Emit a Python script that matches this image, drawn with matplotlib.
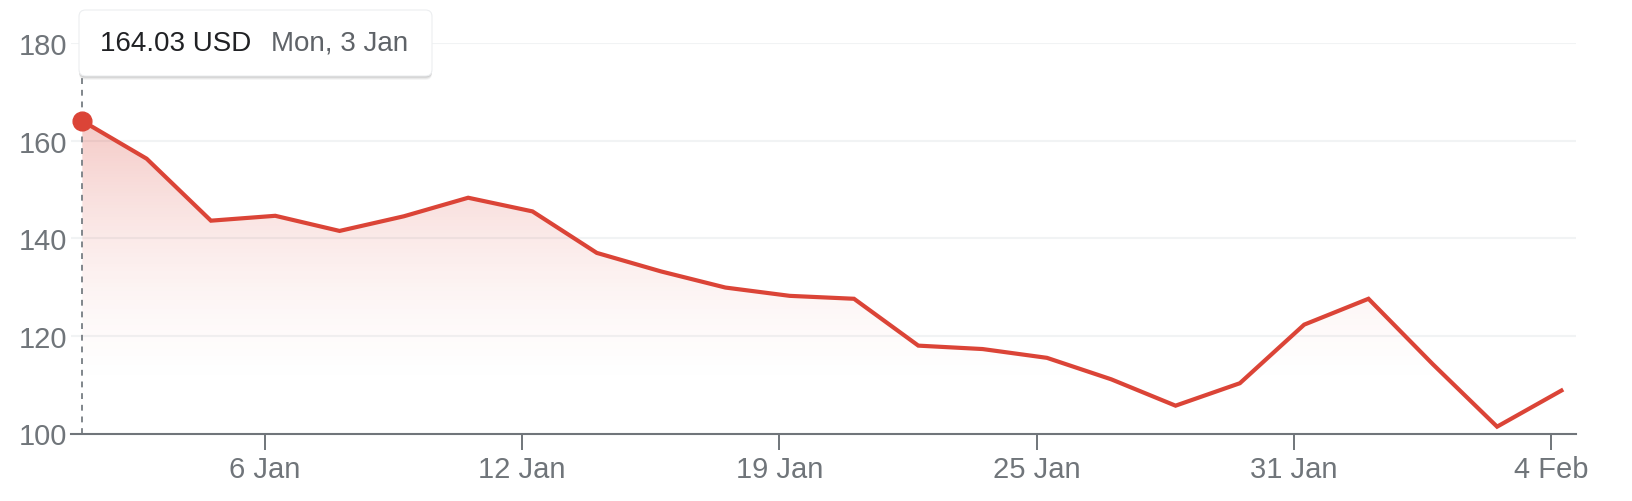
import numpy as np
import matplotlib as mpl
mpl.use('Agg')
import matplotlib.pyplot as plt
from matplotlib.patches import FancyBboxPatch

plt.rcParams['font.family'] = ['Liberation Sans', 'DejaVu Sans']

# Daily closes, trading days 3 Jan - 4 Feb
dates = ['3 Jan', '4 Jan', '5 Jan', '6 Jan', '7 Jan', '10 Jan', '11 Jan', '12 Jan',
         '13 Jan', '14 Jan', '18 Jan', '19 Jan', '20 Jan', '21 Jan', '24 Jan', '25 Jan',
         '26 Jan', '27 Jan', '28 Jan', '31 Jan', '1 Feb', '2 Feb', '3 Feb', '4 Feb']
prices = [164.03, 156.3, 143.6, 144.6, 141.5, 144.5, 148.3, 145.5,
          137.0, 133.2, 129.9, 128.2, 127.6, 118.0, 117.3, 115.5,
          111.1, 105.7, 110.3, 122.3, 127.6, 114.2, 101.4, 108.8]
tick_labels = ['6 Jan', '12 Jan', '19 Jan', '25 Jan', '31 Jan', '4 Feb']
yticks = [100, 120, 140, 160, 180]
tooltip_price = '164.03 USD'
tooltip_date = 'Mon, 3 Jan'

red = '#db4437'
grey = '#70757a'

W, H = 1632, 502
ax_top, ax_bot = 44, 434.5
fig = plt.figure(figsize=(W / 100, H / 100), dpi=100)
ax = fig.add_axes([71 / W, 1 - ax_bot / H, (1576 - 71) / W, (ax_bot - ax_top) / H])

x = np.arange(len(prices))
ax.set_xlim(-0.176, 23.227)
ax.set_ylim(100, 180)

# gradient fill under the line, fading out towards ~110
fill = ax.fill_between(x, prices, 100, color='none', lw=0)
yy = np.linspace(100, 180, 400)
t = np.clip((yy - 108) / (166 - 108), 0, 1)
alpha = t ** 1.6 * 0.3
img = np.zeros((len(yy), 2, 4))
img[:, :, 0], img[:, :, 1], img[:, :, 2] = 0.86, 0.27, 0.22
img[:, :, 3] = alpha[:, None]
im = ax.imshow(img, extent=[x[0], x[-1], 100, 180], origin='lower',
               aspect='auto', zorder=1, interpolation='bilinear')
im.set_clip_path(fill.get_paths()[0], transform=ax.transData)

ax.plot(x, prices, color=red, lw=3.0, zorder=3, solid_joinstyle='miter')
ax.plot(x[0], prices[0], 'o', color=red, ms=13.5, zorder=4)

# hover line up to the tooltip
ax.axvline(x[0], ymin=0, ymax=(ax_bot - 77) / (ax_bot - ax_top), color='#80868b',
           lw=1.4, ls=(0, (3, 3)), zorder=2, clip_on=False)

# grid, spines, ticks
for v in yticks[1:]:
    ax.axhline(v, color='#f1f3f4', lw=1.5, zorder=0)
for s in ['top', 'right', 'left']:
    ax.spines[s].set_visible(False)
ax.spines['bottom'].set_color(grey)
ax.spines['bottom'].set_linewidth(1.5)
ax.spines['bottom'].set_zorder(5)

ax.set_yticks(yticks)
ax.set_yticklabels([str(v) for v in yticks])
ax.tick_params(axis='y', length=0, pad=2.5, labelsize=21, labelcolor=grey)
tick_pos = [dates.index(d) - 0.16 for d in tick_labels]
ax.set_xticks(tick_pos)
ax.set_xticklabels(tick_labels)
ax.tick_params(axis='x', length=11.5, width=1.4, color=grey, pad=4,
               labelsize=21, labelcolor=grey)

# tooltip
bx0, by0, bx1, by1 = 79, 11, 432, 77
for off, a in [(4, 0.04), (3, 0.05), (2, 0.07), (1, 0.08)]:
    sh = FancyBboxPatch((bx0 / W, 1 - (by1 + off) / H), (bx1 - bx0) / W, (by1 - by0) / H,
                        boxstyle='round,pad=0,rounding_size=0.004',
                        transform=fig.transFigure, fc='black', ec='none', alpha=a,
                        zorder=10, mutation_aspect=W / H)
    fig.patches.append(sh)
box = FancyBboxPatch((bx0 / W, 1 - by1 / H), (bx1 - bx0) / W, (by1 - by0) / H,
                     boxstyle='round,pad=0,rounding_size=0.004',
                     transform=fig.transFigure, fc='white', ec='#eceef0', lw=0.8,
                     zorder=11, mutation_aspect=W / H)
fig.patches.append(box)
fig.text(100 / W, 1 - 44 / H, tooltip_price, fontsize=20, color='#202124',
         va='center', ha='left', zorder=12)
fig.text(271 / W, 1 - 44 / H, tooltip_date, fontsize=20, color='#5f6368',
         va='center', ha='left', zorder=12)

plt.savefig('out.png', dpi=100)
plt.close()
